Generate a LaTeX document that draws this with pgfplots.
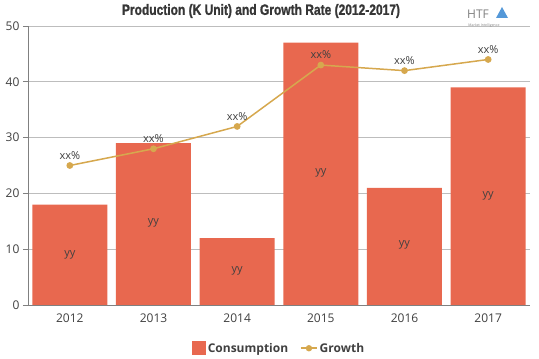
\documentclass[border=0pt]{standalone}
\usepackage{pgfplots}
\pgfplotsset{compat=1.18}
\usepackage{fontspec}
\setmainfont{Open Sans}
\newfontfamily\titlefont[FakeStretch=0.8, FakeBold=1.2]{Liberation Sans}
\definecolor{barc}{HTML}{E8684F}
\definecolor{linec}{HTML}{D6A84E}
\definecolor{gridc}{HTML}{BDBDBD}
\definecolor{txt}{HTML}{404040}
\begin{document}
\begin{tikzpicture}
\begin{axis}[
  scale only axis,
  width=502pt, height=279pt,
  xmin=-0.5, xmax=5.5, ymin=0, ymax=50,
  xtick={0,1,2,3,4,5}, xticklabels={2012,2013,2014,2015,2016,2017},
  ytick={0,10,20,30,40,50},
  ymajorgrids, grid style={gridc, line width=0.6pt},
  axis x line*=bottom, axis y line*=left,
  axis line style={gray, line width=0.6pt},
  x tick style={draw=none},
  y tick style={gray, line width=0.6pt},
  tick align=outside, major tick length=5pt,
  tick label style={font=\fontsize{12}{13}\selectfont, text=txt},
  /pgf/number format/assume math mode=true,
  legend style={at={(0.5,-0.155)}, anchor=center, draw=none, legend columns=2,
    font=\fontsize{12}{13}\selectfont\bfseries, text=txt,
    /tikz/every even column/.append style={column sep=10pt}},
  clip=false,
]
\addplot[ybar, bar width=75pt, fill=barc, draw=none,
  legend image code/.code={\fill[barc] (0pt,-7pt) rectangle (14pt,7pt);}]
  coordinates {(0,18) (1,29) (2,12) (3,47) (4,21) (5,39)};
\addlegendentry{Consumption}
\addplot[linec, line width=1.5pt, mark=*, mark size=2.6pt,
  nodes near coords={xx\%},
  every node near coord/.append style={text=txt, font=\fontsize{11}{12}\selectfont, anchor=south, yshift=2pt},
  legend image code/.code={\draw[linec, line width=1.5pt] (0pt,0pt) -- (16pt,0pt); \fill[linec] (8pt,0pt) circle (2.4pt);}]
  coordinates {(0,25) (1,28) (2,32) (3,43) (4,42) (5,44)};
\addlegendentry{Growth}
\addplot[draw=none, mark=none, forget plot,
  nodes near coords={yy},
  every node near coord/.append style={text=txt, font=\fontsize{11}{12}\selectfont, anchor=center}]
  coordinates {(0,9) (1,14.75) (2,6.1) (3,23.6) (4,10.7) (5,19.6)};
\path (rel axis cs:0,0) ++(-28pt,-54pt) rectangle ++(539pt,359pt);
\node[text=txt!85!black, font=\titlefont\bfseries\fontsize{15}{17}\selectfont]
  at ([shift={(233pt,294pt)}]rel axis cs:0,0) {Production (K Unit) and Growth Rate (2012-2017)};
\node[text=gray, font=\fontsize{12}{12}\selectfont, inner sep=0pt]
  at ([shift={(450pt,291pt)}]rel axis cs:0,0) {HTF};
\fill[cyan!60!blue!70] ([shift={(468pt,287pt)}]rel axis cs:0,0) -- ++(6pt,11pt) -- ++(6pt,-11pt) -- cycle;
\node[text=gray, font=\fontsize{3.5}{4}\selectfont, inner sep=0pt]
  at ([shift={(456pt,279pt)}]rel axis cs:0,0) {Market Intelligence};
\end{axis}
\end{tikzpicture}
\end{document}
